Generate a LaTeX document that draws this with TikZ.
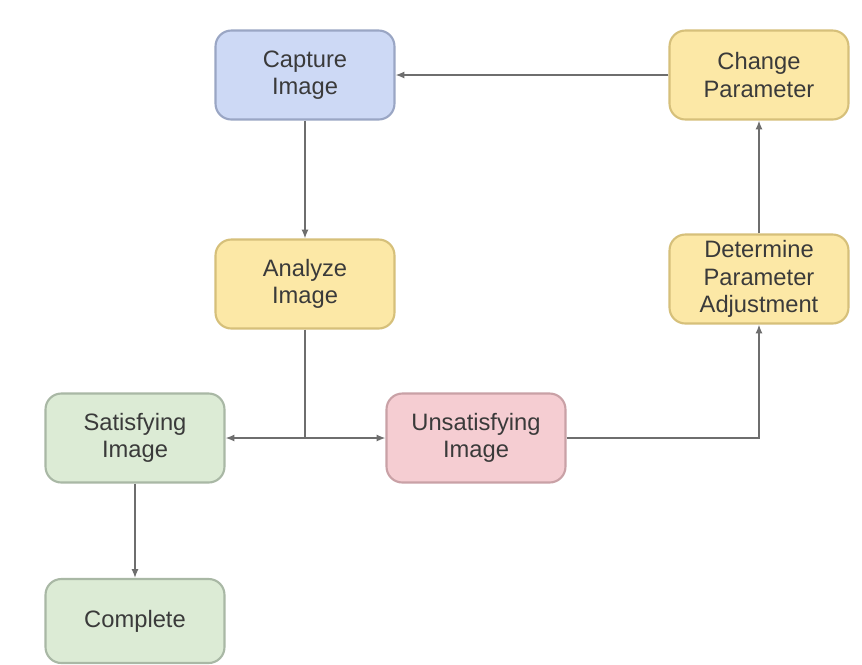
\documentclass[tikz,border=0pt]{standalone}
\usepackage{fontspec}
\setmainfont{Liberation Sans}
\usetikzlibrary{arrows.meta}
\definecolor{bluefill}{HTML}{CDD9F5}
\definecolor{blueline}{HTML}{9AA6C4}
\definecolor{yelfill}{HTML}{FCE8A6}
\definecolor{yelline}{HTML}{D6C07A}
\definecolor{grnfill}{HTML}{DCEBD5}
\definecolor{grnline}{HTML}{A9B8A5}
\definecolor{redfill}{HTML}{F5CDD2}
\definecolor{redline}{HTML}{C9A1A6}
\definecolor{conn}{HTML}{6E6E6E}
\definecolor{txt}{HTML}{3A3A3A}
\tikzset{
  box/.style={draw, line width=1.2pt, rounded corners=9pt, minimum width=3.58cm, minimum height=1.78cm,
    align=center, text=txt, inner sep=1pt, font=\fontsize{13.5}{15.5}\selectfont},
  bluebox/.style={box, fill=bluefill, draw=blueline},
  yelbox/.style={box, fill=yelfill, draw=yelline},
  grnbox/.style={box, fill=grnfill, draw=grnline},
  redbox/.style={box, fill=redfill, draw=redline},
  link/.style={draw=conn, line width=0.9pt, -{Latex[length=5pt,width=4pt]}},
  plain/.style={draw=conn, line width=0.9pt}
}
\begin{document}
\begin{tikzpicture}[x=0.02cm,y=-0.02cm]
\fill[white] (0,0) rectangle (862,664);
\useasboundingbox (0,0) rectangle (862,664);
\node[bluebox] (cap) at (305,75) {Capture\\Image};
\node[yelbox] (chg) at (759,75) {Change\\Parameter};
\node[yelbox] (ana) at (305,284) {Analyze\\Image};
\node[yelbox] (det) at (759,279) {Determine\\Parameter\\Adjustment};
\node[grnbox] (sat) at (135,438) {Satisfying\\Image};
\node[redbox] (uns) at (476,438) {Unsatisfying\\Image};
\node[grnbox, minimum height=1.68cm] (cmp) at (135,621) {Complete};
\coordinate (j) at (305,438);
\coordinate (k) at (759,438);
\draw[link] (chg.west) -- (cap.east);
\draw[link] (cap.south) -- (ana.north);
\draw[plain] (ana.south) -- (j);
\draw[link] (j) -- (sat.east);
\draw[link] (j) -- (uns.west);
\draw[link] (uns.east) -- (k) -- (det.south);
\draw[link] (det.north) -- (chg.south);
\draw[link] (sat.south) -- (cmp.north);
\end{tikzpicture}
\end{document}
